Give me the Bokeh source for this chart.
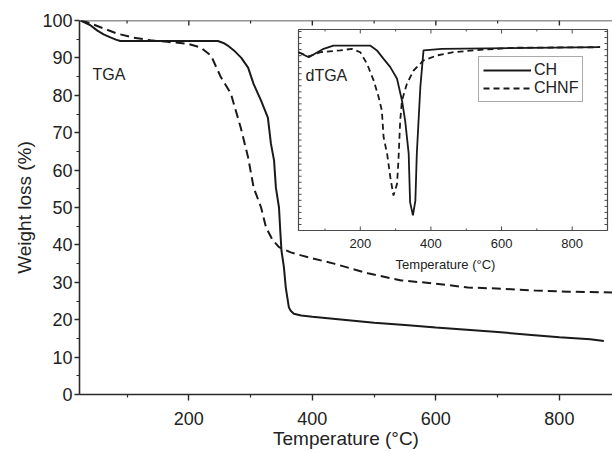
import numpy as np
from bokeh.plotting import figure
from bokeh.models import (Range1d, FixedTicker, Legend, LegendItem, Span, Title)
from bokeh.core.properties import value
from bokeh.embed import file_html
from bokeh.resources import INLINE

# ---------------- data ----------------
tga_ch_T = [25, 40, 52, 62, 73, 82, 89, 120, 160, 200, 247, 256, 263, 273, 285, 296, 305, 317, 328, 333,
            338, 341, 346, 348, 350, 354, 357, 362, 365, 370, 382, 400, 450, 500, 550, 600, 650, 700, 750, 800,
            850, 872]
tga_ch = [100, 98.8, 97.3, 96.3, 95.5, 94.9, 94.5, 94.5, 94.5, 94.5, 94.5, 94.0, 93.3, 92.0, 90.0, 87.4, 83.0, 78.6, 74.0, 67.0,
          62.6, 55.3, 50.0, 44.0, 38.5, 34.0, 28.6, 23.3, 22.4, 21.6, 21.1, 20.8, 20.0, 19.2, 18.6, 17.9, 17.3, 16.7, 16.0, 15.3,
          14.8, 14.3]

tga_chnf_T = [25, 40, 57, 84, 111, 138, 165, 198, 219, 236, 252, 268, 284, 296, 305, 317, 325, 335, 346, 365,
              382, 400, 435, 490, 544, 597, 652, 706, 760, 814, 886]
tga_chnf = [100, 99.3, 98.2, 96.5, 95.4, 94.7, 94.3, 93.8, 92.8, 90.6, 84.8, 80.5, 71.4, 63.4, 55.3, 50.0, 44.7, 41.5, 39.4, 38.0,
            37.2, 36.4, 35.0, 32.4, 30.5, 29.7, 28.6, 28.3, 27.8, 27.5, 27.3]

dtga_ch_T = [25, 54, 96, 124, 228, 247, 266, 285, 304, 318, 327, 337, 341, 349, 356, 360, 370, 379, 431, 879]
dtga_ch = [88.7, 86.2, 90.4, 92.0, 92.0, 89.6, 85.4, 81.3, 75.5, 64.7, 54.7, 38.2, 14.1, 7.5, 14.9, 38.2, 71.3, 89.6, 90.4, 91.2]

dtga_chnf_T = [25, 54, 87, 143, 176, 200, 219, 238, 252, 261, 266, 276, 285, 294, 304, 308, 313, 318, 332, 351,
               379, 417, 464, 539, 634, 879]
dtga_chnf = [88.7, 86.6, 88.7, 89.6, 90.4, 88.7, 82.9, 74.6, 66.3, 59.7, 46.4, 38.1, 26.5, 17.4, 23.2, 34.8, 54.7, 64.7, 73.0, 79.6,
             84.6, 87.1, 88.7, 89.9, 90.9, 91.2]

series_names = ["CH", "CHNF"]
x_major = [200, 400, 600, 800]
x_minor = [100, 300, 500, 700]
x_tick_labels = ["200", "400", "600", "800"]
y_major = [0, 10, 20, 30, 40, 50, 60, 70, 80, 90, 100]
y_minor = [5, 15, 25, 35, 45, 55, 65, 75, 85, 95]
inset_y_ticks = list(range(3, 100, 3))

# ---------------- layout constants (canvas px) ----------------
W, H = 612, 452
FL, FR, FT, FB = 79, 612, 20, 394          # main frame edges
X0, X1, Y0, Y1 = 23, 886, 0, 100
IL, IR, IT, IB = 298, 607, 29, 230          # inset frame edges
IX0, IX1, IY0, IY1 = 25, 900, 0, 100

sx = (IX1 - IX0) / (IR - IL)   # inset data per px
sy = (IY1 - IY0) / (IB - IT)
ix_start, ix_end = IX0 - (IL - FL) * sx, IX1 + (FR - IR) * sx
iy_start, iy_end = IY0 - (FB - IB) * sy, IY1 + (IT - FT) * sy
msx = (X1 - X0) / (FR - FL)
msy = (Y1 - Y0) / (FB - FT)

def main_xy(px, py):
    return X0 + (px - FL) * msx, Y1 - (py - FT) * msy

def inset_xy(px, py):
    return IX0 + (px - IL) * sx, IY1 - (py - IT) * sy

FONT = "Liberation Sans"
TXT = "#222222"
INK = "#1a1a1a"
AX = "#2a2a2a"

p = figure(width=W, height=H, x_range=Range1d(X0, X1), y_range=Range1d(Y0, Y1),
           output_backend="svg", toolbar_location=None,
           min_border_left=FL, min_border_right=W - FR, min_border_top=FT, min_border_bottom=H - FB)
p.extra_x_ranges = {"ix": Range1d(ix_start, ix_end)}
p.extra_y_ranges = {"iy": Range1d(iy_start, iy_end)}
p.xgrid.visible = False
p.ygrid.visible = False
p.outline_line_color = None
p.background_fill_color = "white"
p.border_fill_color = "white"

def style_axis(ax, out_major, out_minor):
    ax.axis_line_color = AX
    ax.axis_line_width = 1.6
    ax.major_tick_line_color = AX
    ax.minor_tick_line_color = AX
    ax.major_tick_line_width = 1.4
    ax.minor_tick_line_width = 1.2
    ax.major_tick_out = out_major
    ax.major_tick_in = 0
    ax.minor_tick_out = out_minor
    ax.minor_tick_in = 0
    ax.major_label_text_font = FONT
    ax.major_label_text_font_size = "18px"
    ax.major_label_text_color = TXT

xa = p.xaxis[0]
xa.ticker = FixedTicker(ticks=x_major, minor_ticks=x_minor)
style_axis(xa, 6, 3)
xa.major_label_standoff = 11
xa.axis_label = "Temperature (°C)"
xa.axis_label_text_font = FONT
xa.axis_label_text_font_size = "19px"
xa.axis_label_text_font_style = "normal"
xa.axis_label_text_color = TXT
xa.axis_label_standoff = 0

ya = p.yaxis[0]
ya.ticker = FixedTicker(ticks=y_major, minor_ticks=y_minor)
style_axis(ya, 5, 3)
ya.major_label_standoff = 2

p.add_layout(Title(text="Weight loss (%)", align="center", offset=24, text_font=FONT,
                   text_font_size="19px", text_font_style="normal", text_color=TXT, standoff=10), "left")

# top border with inward ticks
p.add_layout(Span(location=Y1, dimension="width", line_color=AX, line_width=1.6))
p.segment(x0=x_major, y0=[Y1] * 4, x1=x_major, y1=[Y1 - 5 * msy] * 4, line_color=AX, line_width=1.4)
p.segment(x0=x_minor, y0=[Y1] * 4, x1=x_minor, y1=[Y1 - 3 * msy] * 4, line_color=AX, line_width=1.2)

# main curves
p.line(tga_ch_T, tga_ch, line_color=INK, line_width=2)
p.line(tga_chnf_T, tga_chnf, line_color=INK, line_width=2, line_dash="9 5")

# ---------------- inset ----------------
p.quad(left=[IX0], right=[IX1], bottom=[IY0], top=[IY1], x_range_name="ix", y_range_name="iy",
       fill_color="white", line_color="#4a4a4a", line_width=1.2)

tk_major, tk_minor, tk_y = 4 * sy, 2 * sy, 3 * sx
for yb, sgn in ((IY0, 1), (IY1, -1)):
    p.segment(x0=x_major, y0=[yb] * 4, x1=x_major, y1=[yb + sgn * tk_major] * 4, x_range_name="ix",
              y_range_name="iy", line_color="#4a4a4a", line_width=1)
    p.segment(x0=x_minor, y0=[yb] * 4, x1=x_minor, y1=[yb + sgn * tk_minor] * 4, x_range_name="ix",
              y_range_name="iy", line_color="#4a4a4a", line_width=1)
n = len(inset_y_ticks)
for xb, sgn in ((IX0, 1), (IX1, -1)):
    p.segment(x0=[xb] * n, y0=inset_y_ticks, x1=[xb + sgn * tk_y] * n, y1=inset_y_ticks, x_range_name="ix",
              y_range_name="iy", line_color="#4a4a4a", line_width=1)

r_ch = p.line(dtga_ch_T, dtga_ch, x_range_name="ix", y_range_name="iy", line_color=INK, line_width=1.8)
r_chnf = p.line(dtga_chnf_T, dtga_chnf, x_range_name="ix", y_range_name="iy", line_color=INK, line_width=1.8,
                line_dash="6 4")

_, lab_y = inset_xy(0, 243)
p.text(x=x_major, y=[lab_y] * 4, text=x_tick_labels, x_range_name="ix", y_range_name="iy",
       text_align="center", text_baseline="middle", text_font=value(FONT), text_font_size="13px",
       text_color=TXT)

tx, ty = inset_xy(445, 264)
p.text(x=[tx], y=[ty], text=["Temperature (°C)"], x_range_name="ix", y_range_name="iy",
       text_align="center", text_baseline="middle", text_font=value(FONT), text_font_size="13px",
       text_color=TXT)
dx, dy = inset_xy(305, 75)
p.text(x=[dx], y=[dy], text=["dTGA"], x_range_name="ix", y_range_name="iy",
       text_align="left", text_baseline="middle", text_font=value(FONT), text_font_size="16px",
       text_color=TXT)

legend = Legend(items=[LegendItem(label=series_names[0], renderers=[r_ch]),
                       LegendItem(label=series_names[1], renderers=[r_chnf])],
                location=(478 - FL, FB - 102),
                border_line_color="#555555", border_line_width=1, background_fill_color="white",
                background_fill_alpha=1, padding=4, spacing=0, margin=0,
                glyph_width=48, glyph_height=18, label_height=18, label_standoff=3,
                label_text_font=FONT, label_text_font_size="16px", label_text_color=TXT)
p.add_layout(legend)

gx, gy = main_xy(92, 73.5)
p.text(x=[gx], y=[gy], text=["TGA"], text_align="left", text_baseline="middle",
       text_font=value(FONT), text_font_size="16px", text_color=TXT)

open("out.html", "w").write(file_html(p, INLINE))
